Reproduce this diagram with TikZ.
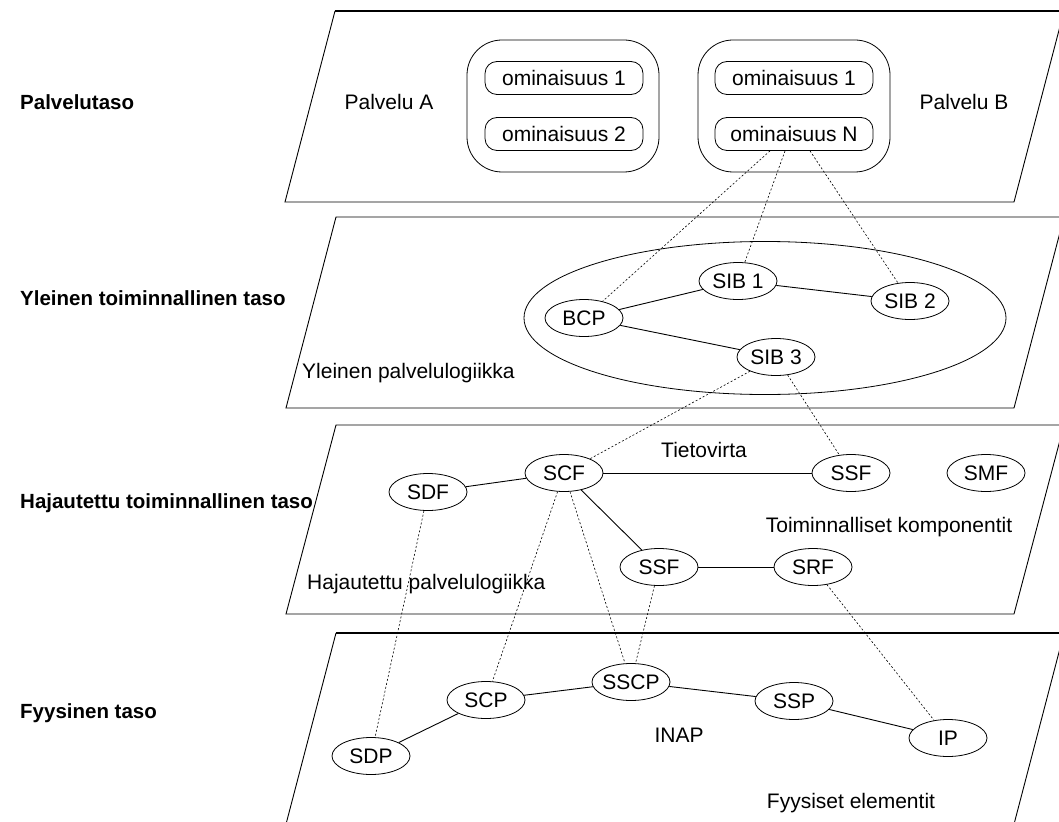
\documentclass[tikz,border=0pt]{standalone}
\usepackage{fontspec}
\setmainfont{Liberation Sans}
\usetikzlibrary{shapes.geometric}
\begin{document}
\begin{tikzpicture}[x=1pt,y=-1pt,
  every node/.style={font=\fontsize{21}{25}\selectfont},
  plane/.style={draw, line width=0.9pt},
  planetop/.style={draw, line width=1.5pt},
  layerlabel/.style={anchor=west, inner sep=0pt, font=\fontsize{20.5}{24}\selectfont\bfseries},
  caption/.style={inner sep=0pt},
  fe/.style={ellipse, draw, line width=0.8pt, minimum width=78pt, minimum height=37pt, inner sep=0pt},
  logic/.style={ellipse, draw, line width=0.8pt, inner sep=0pt},
  service/.style={draw, rounded corners=35pt, minimum width=192pt, minimum height=132pt, line width=0.8pt},
  feature/.style={draw, rounded corners=12pt, minimum width=158pt, minimum height=33pt, line width=0.8pt, inner sep=0pt},
  link/.style={line width=0.9pt},
  trace/.style={line width=0.6pt, dash pattern=on 2pt off 2pt}
]
\useasboundingbox (0,0) rectangle (1059,821);
\clip (0,0) rectangle (1059,821);

% the four layer planes
\draw[plane] (1064,11) -- (1014,202) -- (285,202) -- (335,11);
\draw[planetop] (335,11) -- (1064,11);
\draw[plane] (336,217) -- (1064,217) -- (1014,408) -- (286,408) -- cycle;
\draw[plane] (336,425) -- (1064,425) -- (1014,614) -- (286,614) -- cycle;
\draw[plane] (1064,633) -- (1013,828) -- (285,828) -- (336,633);
\draw[planetop] (336,633) -- (1064,633);

% layer names
\node[layerlabel] (l1) at (20,102) {Palvelutaso};
\node[layerlabel] (l2) at (20,298) {Yleinen toiminnallinen taso};
\node[layerlabel] (l3) at (20,503) {Hajautettu toiminnallinen taso};
\node[layerlabel] (l4) at (20,713) {Fyysinen taso};

% service plane
\node[caption] (pa) at (389,102) {Palvelu A};
\node[caption] (pb) at (964,102) {Palvelu B};
\node[service] (sa) at (563,106) {};
\node[service] (sb) at (794,106) {};
\node[feature] (a1) at (564,78) {ominaisuus 1};
\node[feature] (a2) at (564,134) {ominaisuus 2};
\node[feature] (b1) at (794,78) {ominaisuus 1};
\node[feature] (bn) at (794,134) {ominaisuus N};

% global functional plane
\node[logic, minimum width=482pt, minimum height=153pt] (gsl) at (765,318) {};
\node[fe] (BCP) at (584,318) {BCP};
\node[fe] (SIB1) at (738,281) {SIB 1};
\node[fe] (SIB2) at (910,301) {SIB 2};
\node[fe] (SIB3) at (776,357) {SIB 3};
\node[caption, anchor=west] (gpl) at (302,373) {Yleinen palvelulogiikka};
\draw[link] (BCP) -- (SIB1);
\draw[link] (SIB1) -- (SIB2);
\draw[link] (BCP) -- (SIB3);

% distributed functional plane
\node[caption] (tv) at (704,450) {Tietovirta};
\node[fe] (SCF) at (564,473) {SCF};
\node[fe] (SDF) at (428,492) {SDF};
\node[fe] (SSFa) at (851,473) {SSF};
\node[fe] (SMF) at (986,473) {SMF};
\node[caption] (tk) at (889,527) {Toiminnalliset komponentit};
\node[fe] (SSFb) at (659,567) {SSF};
\node[fe] (SRF) at (813,567) {SRF};
\node[caption, anchor=west] (hpl) at (307,584) {Hajautettu palvelulogiikka};
\draw[link] (SDF) -- (SCF);
\draw[link] (SCF) -- (SSFa);
\draw[link] (SCF) -- (SSFb);
\draw[link] (SSFb) -- (SRF);

% physical plane
\node[fe] (SSCP) at (631,682) {\makebox[0pt]{SSCP}};
\node[fe] (SCP) at (486,700) {SCP};
\node[fe] (SSP) at (794,701) {SSP};
\node[fe] (IP) at (948,738) {IP};
\node[fe] (SDP) at (371,756) {SDP};
\node[caption] (inap) at (679,735) {INAP};
\node[caption] (fe) at (851,803) {Fyysiset elementit};
\draw[link] (SDP) -- (SCP);
\draw[link] (SCP) -- (SSCP);
\draw[link] (SSCP) -- (SSP);
\draw[link] (SSP) -- (IP);

% mappings between the planes
\draw[trace] ([xshift=-24pt]bn.south) -- (BCP);
\draw[trace] ([xshift=-9pt]bn.south) -- (SIB1);
\draw[trace] ([xshift=16pt]bn.south) -- (SIB2);
\draw[trace] (SIB3) -- (SCF);
\draw[trace] (SIB3) -- (SSFa);
\draw[trace] (SDF) -- (SDP);
\draw[trace] (SCF) -- (SCP);
\draw[trace] (SCF) -- (SSCP);
\draw[trace] (SSFb) -- (SSCP);
\draw[trace] (SRF) -- (IP);
\end{tikzpicture}
\end{document}
